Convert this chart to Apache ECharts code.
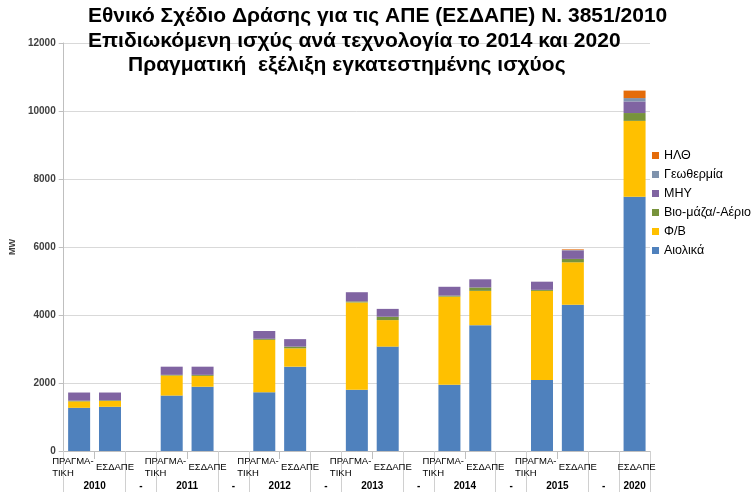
<!DOCTYPE html>
<html><head><meta charset="utf-8">
<script src="https://cdn.jsdelivr.net/npm/echarts@6/dist/echarts.min.js"></script>
<style>html,body{margin:0;padding:0;background:#fff}#c{width:754px;height:492px}</style>
</head><body><div id="c"></div>
<script>
var categories = ['ΠΡΑΓΜΑ-ΤΙΚΗ','ΕΣΔΑΠΕ','','ΠΡΑΓΜΑ-ΤΙΚΗ','ΕΣΔΑΠΕ','','ΠΡΑΓΜΑ-ΤΙΚΗ','ΕΣΔΑΠΕ','','ΠΡΑΓΜΑ-ΤΙΚΗ','ΕΣΔΑΠΕ','','ΠΡΑΓΜΑ-ΤΙΚΗ','ΕΣΔΑΠΕ','','ΠΡΑΓΜΑ-ΤΙΚΗ','ΕΣΔΑΠΕ','','ΕΣΔΑΠΕ'];
var groupLabels = ['2010','-','2011','-','2012','-','2013','-','2014','-','2015','-','2020'];
var groupCenters = [1,2.5,4,5.5,7,8.5,10,11.5,13,14.5,16,17.5,18.5];
var groupBounds = [0,2,3,5,6,8,9,11,12,14,15,17,18,19];
var wind    = [1270,1300,null,1630,1890,null,1730,2480,null,1800,3070,null,1950,3700,null,2090,4300,null,7480];
var pv      = [190,170,null,590,320,null,1540,540,null,2570,780,null,2590,1010,null,2620,1250,null,2230];
var biomass = [20,20,null,20,30,null,30,50,null,30,100,null,30,100,null,30,100,null,230];
var hydro   = [240,230,null,240,240,null,230,220,null,270,230,null,260,240,null,240,250,null,340];
var geo     = [0,0,null,0,0,null,0,0,null,0,0,null,0,0,null,0,10,null,100];
var csp     = [0,0,null,0,0,null,0,0,null,0,0,null,0,0,null,0,20,null,220];
var seriesNames = ['Αιολικά','Φ/Β','Βιο-μάζα/-Αέριο','ΜΗΥ','Γεωθερμία','ΗΛΘ'];
var seriesData = [wind, pv, biomass, hydro, geo, csp];
var colors = ['#4f81bd','#ffc000','#77933c','#8064a2','#7f93ad','#e46c0a'];
var yTicks = [0,2000,4000,6000,8000,10000,12000];

var chart = echarts.init(document.getElementById('c'), null, {renderer:'canvas'});
var F = 'Liberation Sans, Arial, sans-serif';
var titleStyle = {fontFamily:F, fontSize:21, fontWeight:'bold', color:'#000'};
chart.setOption({
  animation:false,
  color: colors,
  title:[
    {text:'Εθνικό Σχέδιο Δράσης για τις ΑΠΕ (ΕΣΔΑΠΕ) Ν. 3851/2010', left:88, top:6, padding:0, textStyle:titleStyle},
    {text:'Επιδιωκόμενη ισχύς ανά τεχνολογία το 2014 και 2020', left:88, top:31, padding:0, textStyle:titleStyle},
    {text:'Πραγματική  εξέλιξη εγκατεστημένης ισχύος', left:128, top:55, padding:0, textStyle:titleStyle}
  ],
  legend:{
    orient:'vertical', left:647, top:144, itemWidth:7, itemHeight:7, itemGap:6, icon:'rect',
    data: seriesNames.slice().reverse(),
    textStyle:{fontFamily:F, fontSize:12.5, color:'#000'}
  },
  grid:{left:57, right:104, top:43, bottom:41, containLabel:false},
  xAxis:[{
    type:'category', data:categories,
    axisLine:{lineStyle:{color:'#bfbfbf'}},
    axisTick:{show:true, interval:0, length:8, lineStyle:{color:'#bfbfbf'}},
    axisLabel:{interval:0, fontFamily:F, fontSize:9.5, color:'#000', margin:16, verticalAlign:'middle', lineHeight:12,
      formatter:function(v, i){
        if (v === 'ΠΡΑΓΜΑ-ΤΙΚΗ') return '{p|ΠΡΑΓΜΑ-}\n{p|ΤΙΚΗ}';
        if (v === 'ΕΣΔΑΠΕ') return i === 18 ? '{c|ΕΣΔΑΠΕ}' : '{e|ΕΣΔΑΠΕ}';
        return v;
      },
      rich:{
        p:{fontFamily:F, fontSize:9.5, color:'#000', width:46, align:'left', padding:[0,8,0,0], lineHeight:12},
        e:{fontFamily:F, fontSize:9.5, color:'#000', padding:[0,0,0,10]},
        c:{fontFamily:F, fontSize:9.5, color:'#000', padding:[0,0,0,4]}
      }
    }
  },{
    type:'value', min:0, max:19, position:'bottom',
    axisLine:{show:false}, splitLine:{show:false},
    axisTick:{show:true, customValues:groupBounds, length:41, lineStyle:{color:'#d0d0d0'}},
    axisLabel:{customValues:groupCenters, margin:30, fontFamily:F, fontSize:10, fontWeight:'bold', color:'#000',
      formatter:function(v){ var i = groupCenters.indexOf(v); return i>=0 ? groupLabels[i] : ''; }}
  }],
  yAxis:{
    type:'value', min:0, max:12000, interval:2000,
    name:'MW', nameLocation:'middle', nameGap:42, nameRotate:90,
    nameTextStyle:{fontFamily:F, fontSize:9, fontWeight:'bold', color:'#404040'},
    axisLine:{show:true, lineStyle:{color:'#bfbfbf'}},
    axisTick:{show:true, length:5, lineStyle:{color:'#bfbfbf'}},
    axisLabel:{fontFamily:F, fontSize:10, fontWeight:'bold', color:'#404040', margin:8,
      formatter:function(v){ return yTicks.indexOf(v)>=0 ? String(v) : ''; }},
    splitLine:{lineStyle:{color:'#d9d9d9'}}
  },
  series: seriesNames.map(function(n,i){
    return {name:n, type:'bar', stack:'total', data:seriesData[i], barWidth:22, xAxisIndex:0,
      itemStyle:{color:colors[i]}};
  })
});
</script></body></html>
